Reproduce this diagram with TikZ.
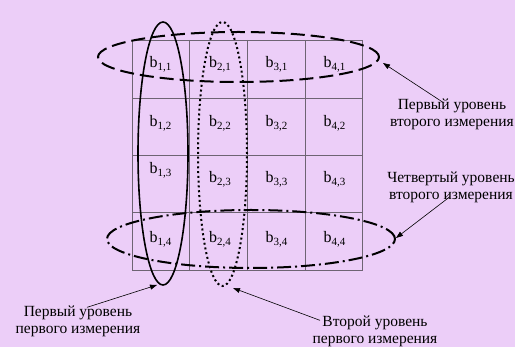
\documentclass[tikz,border=0pt]{standalone}
\usepackage{fontspec}
\setmainfont{Liberation Serif}
\usetikzlibrary{arrows.meta}
\definecolor{bgc}{RGB}{236,206,248}
\definecolor{gridc}{RGB}{110,100,115}
\tikzset{
  cell/.style={anchor=base,inner sep=0pt,font=\fontsize{16}{18}\selectfont},
  lbl/.style={align=center,inner sep=0pt,font=\fontsize{15.5}{17}\selectfont},
  arr/.style={line width=0.6pt,-{Triangle[length=7pt,width=5pt]}},
  gridline/.style={draw=gridc,line width=0.7pt},
}
\newcommand{\bsub}[1]{b\raisebox{-2.6pt}{\fontsize{11}{12}\selectfont #1}}
\begin{document}
\begin{tikzpicture}[x=1pt,y=-1pt]
\fill[bgc] (0,0) rectangle (515,347);
\useasboundingbox (0,0) rectangle (515,347);
% grid
\draw[gridline] (132,40) rectangle (362,270);
\foreach \x in {189,247,305} \draw[gridline] (\x,40) -- (\x,270);
\foreach \y in {98,155,212} \draw[gridline] (132,\y) -- (362,\y);
% cell labels
\node[cell] (b11) at (160.5,68) {\bsub{1,1}};
\node[cell] (b21) at (220,68) {\bsub{2,1}};
\node[cell] (b31) at (276.5,68) {\bsub{3,1}};
\node[cell] (b41) at (334.5,68) {\bsub{4,1}};
\node[cell] (b12) at (160.5,127) {\bsub{1,2}};
\node[cell] (b22) at (220,127) {\bsub{2,2}};
\node[cell] (b32) at (276.5,127) {\bsub{3,2}};
\node[cell] (b42) at (334.5,127) {\bsub{4,2}};
\node[cell] (b13) at (160.5,174) {\bsub{1,3}};
\node[cell] (b23) at (220,183) {\bsub{2,3}};
\node[cell] (b33) at (276.5,183) {\bsub{3,3}};
\node[cell] (b43) at (334.5,183) {\bsub{4,3}};
\node[cell] (b14) at (160.5,243) {\bsub{1,4}};
\node[cell] (b24) at (220,243) {\bsub{2,4}};
\node[cell] (b34) at (276.5,243) {\bsub{3,4}};
\node[cell] (b44) at (334.5,243) {\bsub{4,4}};
% ellipses
\draw[line width=1.6pt] (163,153.5) ellipse [x radius=25pt, y radius=131.5pt];
\draw[line width=2pt,dash pattern=on 2pt off 2.8pt] (222.5,154) ellipse [x radius=24.5pt, y radius=132pt];
\draw[line width=2pt,dash pattern=on 14pt off 6pt] (238.5,57) ellipse [x radius=140.5pt, y radius=25pt];
\draw[line width=2pt,dash pattern=on 14pt off 4pt on 2pt off 4pt] (251,239) ellipse [x radius=144pt, y radius=29pt];
% arrow targets
\coordinate (t1) at (383,63);
\coordinate (t2) at (396,238);
\coordinate (t3) at (157,285);
\coordinate (t4) at (233,288);
% labels
\node[lbl] (L1) at (452,114) {Первый уровень\\второго измерения};
\node[lbl] (L2) at (451,187) {Четвертый уровень\\второго измерения};
\node[lbl] (L3) at (78,321) {Первый уровень\\первого измерения};
\node[lbl] (L4) at (375,331) {Второй уровень\\первого измерения};
% arrows
\draw[arr] ([xshift=-9pt,yshift=-4pt]L1.north) -- (t1);
\draw[arr] ([xshift=-1pt,yshift=6pt]L2.south) -- (t2);
\draw[arr] ([xshift=9pt,yshift=-2pt]L3.north) -- (t3);
\draw[arr] ([xshift=-55pt,yshift=-5pt]L4.north) -- (t4);
\end{tikzpicture}
\end{document}
